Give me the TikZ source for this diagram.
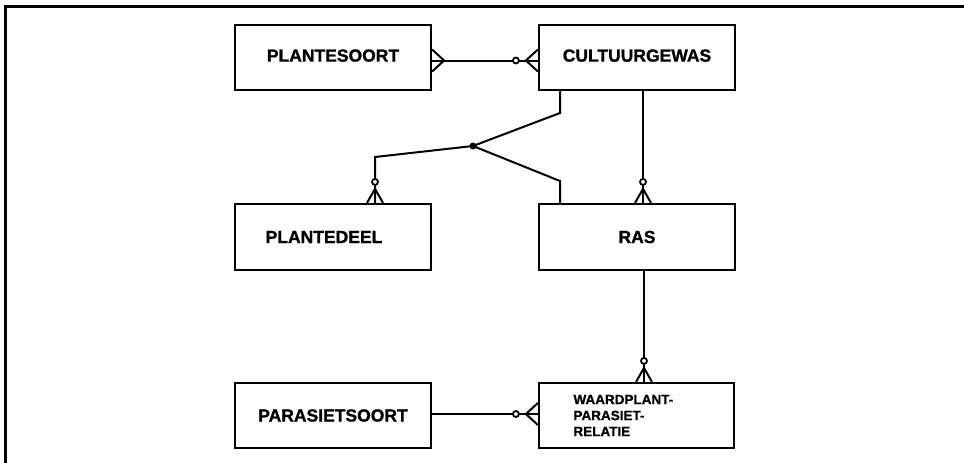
\documentclass[tikz,border=0pt]{standalone}
\usepackage{fontspec}
\setmainfont{Liberation Sans}[BoldFeatures={FakeBold=1.2}]
\begin{document}
\begin{tikzpicture}[x=1pt,y=-1pt,
  box/.style={draw, line width=2.2pt, minimum width=196pt, minimum height=65pt, inner sep=0pt,
    font=\fontsize{17.5}{20}\selectfont\bfseries},
  link/.style={line width=2pt},
  hcrow/.pic={\draw[line width=2pt] (0,-11) -- (12,0) -- (0,11);},
  hcrowz/.pic={\draw[line width=2pt] (0,-11) -- (12,0) -- (0,11);
               \draw[line width=1.8pt, fill=white] (22,0) circle (3);},
  vcrowz/.pic={\draw[line width=2pt] (0,-8) -- (14,0) -- (0,8);
               \draw[line width=1.8pt, fill=white] (21,0) circle (3);}
]
\useasboundingbox (0,0) rectangle (964,463);
% frame
\draw[line width=3pt] (5,463) -- (5,6) -- (964,6);

% entities
\node[box] (ps)  at (333,57.5) {\raisebox{4pt}{PLANTESOORT}};
\node[box] (cg)  at (637,57.5) {\raisebox{4pt}{CULTUURGEWAS}};
\node[box, minimum height=66pt] (pd)  at (333,237) {\hspace*{-18pt}PLANTEDEEL};
\node[box, minimum height=66pt] (ras) at (637,237) {RAS};
\node[box] (pas) at (333,415.5) {PARASIETSOORT};
\node[box, minimum width=195pt, text width=126pt, inner xsep=34pt, align=left,
      font=\fontsize{13.5}{16}\selectfont\bfseries] (wpr) at (636.5,415.5)
      {WAARDPLANT-\\PARASIET-\\RELATIE};

% connector coordinates
\coordinate (a1) at (ps.east |- 0,60.5);
\coordinate (a2) at (cg.west |- 0,60.5);
\coordinate (j)  at (473,146);
\coordinate (b1) at (cg.south -| 560,0);
\coordinate (b2) at (560,113);
\coordinate (c1) at (375,157);
\coordinate (c2) at (pd.north -| 375,0);
\coordinate (d1) at (560,181);
\coordinate (d2) at (ras.north -| 560,0);
\coordinate (e1) at (cg.south -| 643,0);
\coordinate (e2) at (ras.north -| 643,0);
\coordinate (f1) at (ras.south -| 644,0);
\coordinate (f2) at (wpr.north -| 644,0);
\coordinate (g1) at (pas.east |- 0,414);
\coordinate (g2) at (wpr.west |- 0,414);

% connectors
\draw[link] (a1) -- (a2);
\path (a1) pic {hcrow};
\path (a2) pic[rotate=180] {hcrowz};

\draw[link] (b1) -- (b2) -- (j) -- (c1) -- (c2);
\draw[link] (j) -- (d1) -- (d2);
\fill (j) circle (3.5);
\path (c2) pic[rotate=90] {vcrowz};

\draw[link] (e1) -- (e2);
\path (e2) pic[rotate=90] {vcrowz};

\draw[link] (f1) -- (f2);
\path (f2) pic[rotate=90] {vcrowz};

\draw[link] (g1) -- (g2);
\path (g2) pic[rotate=180] {hcrowz};
\end{tikzpicture}
\end{document}
